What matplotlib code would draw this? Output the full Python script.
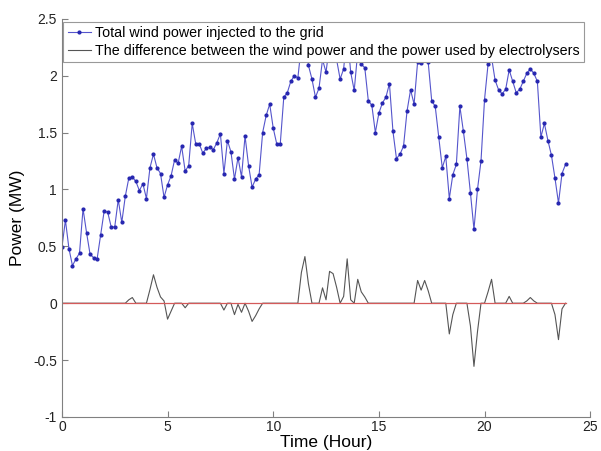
import numpy as np
import matplotlib
matplotlib.use("Agg")
import matplotlib.pyplot as plt
from matplotlib.ticker import FuncFormatter

plt.rcParams['font.family'] = ['Liberation Sans', 'DejaVu Sans']
plt.rcParams['axes.unicode_minus'] = False

# 10-minute samples over the day (hours)
hours = np.arange(144) / 6.0

wind_power = [
    0.49, 0.73, 0.48, 0.33, 0.39, 0.44, 0.83, 0.62, 0.43, 0.40,
    0.39, 0.60, 0.81, 0.80, 0.67, 0.67, 0.91, 0.71, 0.94, 1.10,
    1.11, 1.07, 0.99, 1.05, 0.92, 1.19, 1.31, 1.19, 1.14, 0.93,
    1.04, 1.12, 1.26, 1.23, 1.38, 1.16, 1.21, 1.58, 1.40, 1.40,
    1.32, 1.36, 1.37, 1.35, 1.41, 1.49, 1.14, 1.43, 1.33, 1.09,
    1.28, 1.11, 1.47, 1.21, 1.02, 1.09, 1.13, 1.50, 1.65, 1.75,
    1.54, 1.40, 1.40, 1.81, 1.85, 1.95, 2.00, 1.98, 2.27, 2.41,
    2.09, 1.97, 1.81, 1.89, 2.14, 2.03, 2.28, 2.26, 2.14, 1.97,
    2.06, 2.39, 2.03, 1.87, 2.21, 2.10, 2.07, 1.78, 1.74, 1.50,
    1.67, 1.76, 1.81, 1.93, 1.51, 1.27, 1.31, 1.38, 1.69, 1.875,
    1.75, 2.12, 2.11, 2.20, 2.12, 1.78, 1.73, 1.46, 1.19, 1.29,
    0.92, 1.13, 1.22, 1.73, 1.51, 1.27, 0.97, 0.65, 1.00, 1.25,
    1.79, 2.10, 2.16, 1.96, 1.875, 1.84, 1.88, 2.05, 1.95, 1.85,
    1.88, 1.95, 2.02, 2.06, 2.02, 1.95, 1.46, 1.58, 1.43, 1.30,
    1.10, 0.88, 1.14, 1.22,
]

difference = [
    0, 0, 0, 0, 0, 0, 0, 0, 0, 0,
    0, 0, 0, 0, 0, 0, 0, 0, 0, 0.03,
    0.05, 0, 0, 0, 0, 0.12, 0.25, 0.14, 0.055, 0.02,
    -0.14, -0.07, 0, 0, 0, -0.04, 0, 0, 0, 0,
    0, 0, 0, 0, 0, 0, -0.06, 0, 0, -0.10,
    -0.01, -0.08, 0, -0.07, -0.16, -0.11, -0.05, 0, 0, 0,
    0, 0, 0, 0, 0, 0, 0, 0, 0.27, 0.41,
    0.17, 0, 0, 0, 0.135, 0.03, 0.28, 0.26, 0.14, 0,
    0.06, 0.39, 0.03, 0, 0.21, 0.10, 0.055, 0, 0, 0,
    0, 0, 0, 0, 0, 0, 0, 0, 0, 0,
    0, 0.20, 0.115, 0.20, 0.11, 0, 0, 0, 0, 0,
    -0.27, -0.10, 0, 0, 0, 0, -0.20, -0.555, -0.25, 0,
    0, 0.10, 0.21, 0, 0, 0, 0, 0.06, 0, 0,
    0, 0, 0.02, 0.05, 0.02, 0, 0, 0, 0, 0,
    -0.10, -0.32, -0.05, 0,
]

fig = plt.figure(figsize=(6.01, 4.51), dpi=100)
ax = fig.add_axes([0.103, 0.0754, 0.879, 0.883])

ax.plot(hours, wind_power, color='#5555cc', lw=0.8, marker='.', ms=4,
        mfc='#2626b0', mec='#2626b0',
        label='Total wind power injected to the grid')
ax.plot(hours, difference, color='#555555', lw=0.8,
        label='The difference between the wind power and the power used by electrolysers')
ax.plot(hours, np.zeros(len(hours)), color='#d45a5a', lw=0.9)

ax.set_xlim(0, 25)
ax.set_ylim(-1, 2.5)
ax.set_xticks(np.arange(0, 26, 5))
ax.set_yticks(np.arange(-1, 2.51, 0.5))
ax.yaxis.set_major_formatter(FuncFormatter(lambda v, p: '%g' % v))

for s in ('top', 'right'):
    ax.spines[s].set_visible(False)
for s in ('left', 'bottom'):
    ax.spines[s].set_color('#808080')
    ax.spines[s].set_linewidth(0.8)
ax.tick_params(direction='in', length=4, width=0.8, color='#808080',
               labelsize=10, labelcolor='#222222')
ax.tick_params(axis='x', pad=2)

ax.set_xlabel('Time (Hour)', fontsize=12.5, labelpad=1)
ax.set_ylabel('Power (MW)', fontsize=12.5, labelpad=6)

leg = ax.legend(loc='upper left', bbox_to_anchor=(0.003, 0.993), fontsize=10.3,
                frameon=True, fancybox=False, framealpha=1, edgecolor='#999999',
                borderpad=0.3, labelspacing=0.3, handlelength=1.6,
                handletextpad=0.3, borderaxespad=0)
leg.get_frame().set_linewidth(0.8)

fig.savefig('out.png', dpi=100)
